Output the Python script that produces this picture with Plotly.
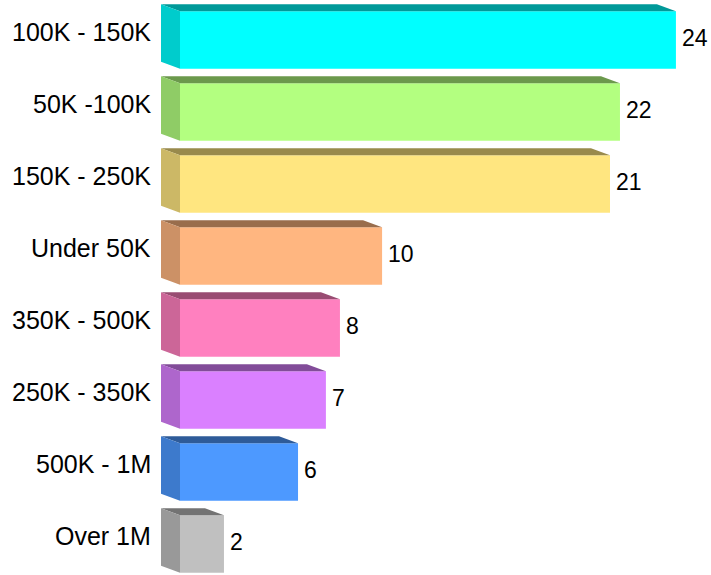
import plotly.graph_objects as go

# ---- data ----
categories = ["100K - 150K", "50K -100K", "150K - 250K", "Under 50K",
              "350K - 500K", "250K - 350K", "500K - 1M", "Over 1M"]
values = [24.37, 21.62, 21.13, 9.93, 7.86, 7.17, 5.80, 2.16]
front_colors = ["#00FFFF", "#B3FF80", "#FFE680", "#FFB680",
                "#FF80BF", "#DA80FF", "#4D99FF", "#C0C0C0"]

# ---- layout constants (pixels) ----
W, H = 711, 575
ML = 155            # left margin (plot area starts here)
ZERO_PX = 180       # pixel x of value 0 (front face left)
PX_PER_UNIT = 20.35
ROW_PX = 72         # pixel per category
FIRST_CENTER_PX = 40
DEPTH_X_PX = 19     # 3D depth offset to the left
DEPTH_Y_PX = 7      # 3D depth offset upwards
BAR_W = 0.8
FONT = "Liberation Sans, Arial, sans-serif"


def shade(hexcol, f):
    h = hexcol.lstrip("#")
    r, g, b = (int(h[i:i + 2], 16) for i in (0, 2, 4))
    return "rgb({},{},{})".format(int(r * f), int(g * f), int(b * f))


pos = list(range(len(categories)))
plot_w = W - ML
x0 = -(ZERO_PX - ML) / PX_PER_UNIT
x1 = x0 + plot_w / PX_PER_UNIT
y_top = -FIRST_CENTER_PX / ROW_PX
y_bot = y_top + H / ROW_PX
dxu = DEPTH_X_PX / PX_PER_UNIT
dyu = DEPTH_Y_PX / ROW_PX

fig = go.Figure()
fig.add_trace(go.Bar(
    y=pos, x=values, orientation="h", width=BAR_W,
    marker=dict(color=front_colors, line=dict(width=0)),
    hoverinfo="skip", showlegend=False,
))

shapes = []
annotations = []
for p, v, c, cat in zip(pos, values, front_colors, categories):
    top = p - BAR_W / 2
    bot = p + BAR_W / 2
    # top face
    shapes.append(dict(
        type="path", xref="x", yref="y", layer="above",
        path="M {a},{t} L {b},{t} L {c},{u} L {d},{u} Z".format(
            a=0, b=v, c=v - dxu, d=-dxu, t=top, u=top - dyu),
        fillcolor=shade(c, 0.6), line=dict(width=0)))
    # side face
    shapes.append(dict(
        type="path", xref="x", yref="y", layer="above",
        path="M 0,{t} L 0,{b} L {d},{bu} L {d},{tu} Z".format(
            t=top, b=bot, d=-dxu, bu=bot - dyu, tu=top - dyu),
        fillcolor=shade(c, 0.8), line=dict(width=0)))
    # value label
    annotations.append(dict(
        x=v, y=p, xref="x", yref="y", text="{:.0f}".format(v),
        showarrow=False, xanchor="left", yanchor="middle",
        xshift=5, yshift=2, borderpad=0,
        font=dict(family=FONT, size=23, color="#000000")))
    # category label
    annotations.append(dict(
        x=0, y=p, xref="paper", yref="y", text=cat,
        showarrow=False, xanchor="right", yanchor="middle",
        xshift=-2, yshift=8,
        font=dict(family=FONT, size=25, color="#000000")))

fig.update_layout(
    width=W, height=H,
    margin=dict(l=ML, r=0, t=0, b=0, pad=0),
    paper_bgcolor="white", plot_bgcolor="white",
    xaxis=dict(range=[x0, x1], visible=False, fixedrange=True),
    yaxis=dict(range=[y_bot, y_top], visible=False, fixedrange=True),
    shapes=shapes, annotations=annotations,
    bargap=0.2,
)

fig.write_html(
    "out.html",
    config={"displayModeBar": False, "staticPlot": True},
    post_script="document.body.style.margin='0';"
                "document.documentElement.style.overflow='hidden';"
                "document.body.style.overflow='hidden';",
)
